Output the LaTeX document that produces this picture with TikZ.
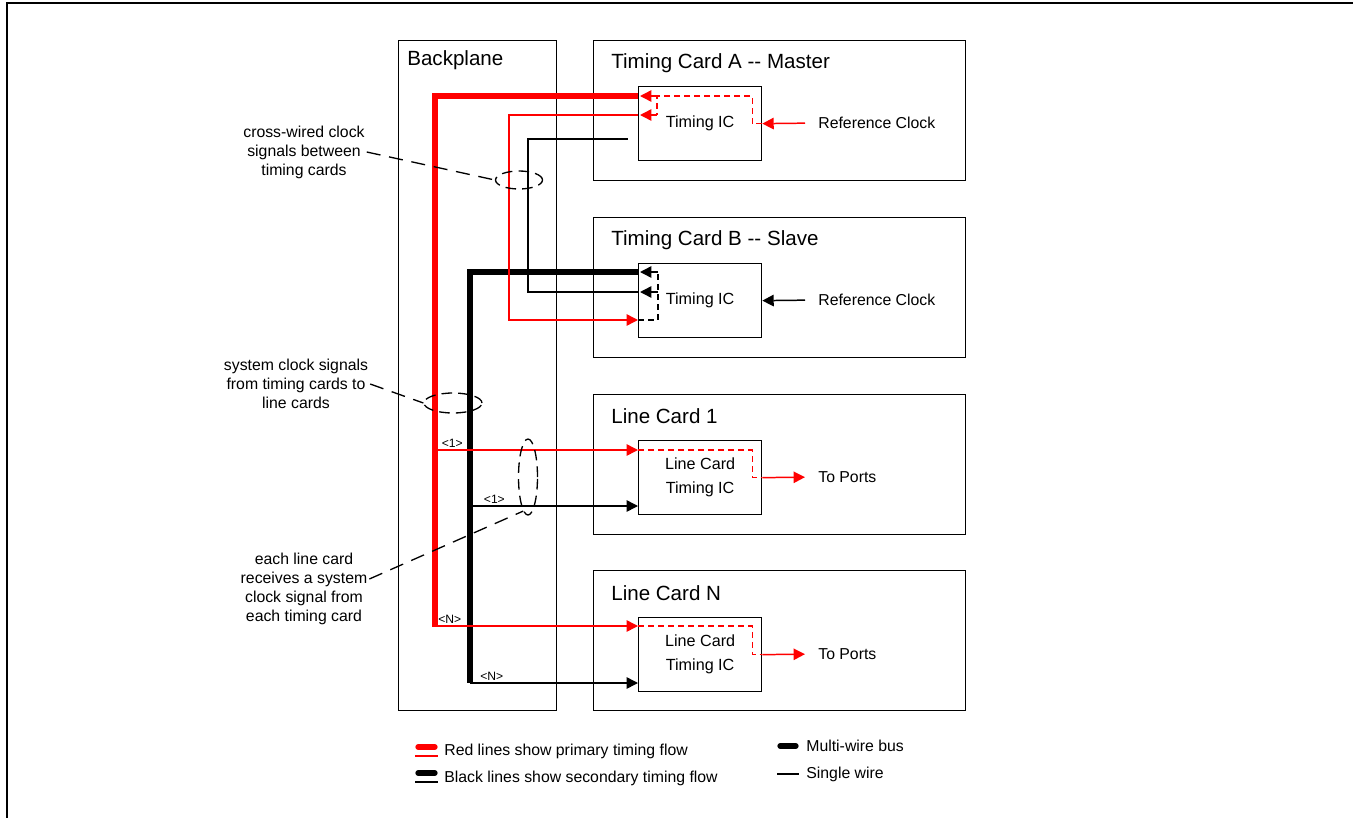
\documentclass[tikz,border=0pt]{standalone}
\usepackage{fontspec}
\setmainfont{Liberation Sans}
\usetikzlibrary{positioning, arrows.meta, shapes.geometric, calc}

\begin{document}
\begin{tikzpicture}[
        x=0.02cm, y=-0.02cm,
        font=\fontsize{9}{10.8}\selectfont,
        card/.style={draw, line width=0.75pt, anchor=north west, minimum width=7.44cm, minimum height=2.8cm},
        chip/.style={draw, line width=0.75pt, anchor=north west, align=center, minimum width=2.46cm, minimum height=1.48cm, font=\fontsize{9.2}{13.5}\selectfont},
        heading/.style={anchor=west, inner sep=0pt, font=\fontsize{11.7}{14}\selectfont},
        sig/.style={anchor=west, inner sep=0pt},
        tag/.style={anchor=south west, inner sep=1pt, text=black, font=\fontsize{6.9}{8}\selectfont},
        note/.style={align=center, inner sep=1pt},
        ring/.style={draw, ellipse, inner sep=0pt, line width=0.75pt, dash pattern=on 6pt off 3.5pt},
        bus/.style={line width=3pt},
        wire/.style={line width=0.85pt},
        inner/.style={line width=0.85pt, dash pattern=on 3.4pt off 2.3pt},
        arrow/.style={-{Triangle[length=6.5pt,width=6.5pt]}},
        lead/.style={line width=0.75pt, dash pattern=on 8pt off 5pt}
    ]
    \useasboundingbox (0,0) rectangle (1353,818);
    \draw[line width=1.1pt] (7,3) rectangle (1362,828);

    % Nodes
    \node[card, minimum width=3.16cm, minimum height=13.4cm] (back) at (398,40) {};
    \node[heading] (backTitle) at ($(back.north west)+(9,20)$) {Backplane};

    \node[card] (cardA) at (593,40) {};
    \node[heading] (titleA) at ($(cardA.north west)+(18,23)$) {Timing Card A -{}- Master};
    \node[chip] (icA) at (638,86) {Timing IC};

    \node[card] (cardB) at (593,217) {};
    \node[heading] (titleB) at ($(cardB.north west)+(18,23)$) {Timing Card B -{}- Slave};
    \node[chip] (icB) at (638,263) {Timing IC};

    \node[card] (card1) at (593,394) {};
    \node[heading] (title1) at ($(card1.north west)+(18,22)$) {Line Card 1};
    \node[chip] (ic1) at (638,440) {Line Card\\Timing IC};

    \node[card] (cardN) at (593,570) {};
    \node[heading] (titleN) at ($(cardN.north west)+(18,23)$) {Line Card N};
    \node[chip] (icN) at (638,617) {Line Card\\Timing IC};

    \node[sig] (refA) at (818,123) {Reference Clock};
    \node[sig] (refB) at (818,300) {Reference Clock};
    \node[sig] (ports1) at (818,477) {To Ports};
    \node[sig] (portsN) at (818,654) {To Ports};

    % Ports on the chips
    \coordinate (aBus) at ($(icA.north west)+(0,10)$);
    \coordinate (aCross) at ($(icA.north west)+(0,29)$);
    \coordinate (aBack) at ($(icA.north west)+(-10,53)$);
    \coordinate (bBus) at ($(icB.north west)+(0,9)$);
    \coordinate (bCross) at ($(icB.north west)+(0,29)$);
    \coordinate (bIn) at ($(icB.north west)+(0,57)$);
    \coordinate (in1r) at ($(ic1.north west)+(0,10)$);
    \coordinate (in1b) at ($(ic1.north west)+(0,66)$);
    \coordinate (inNr) at ($(icN.north west)+(0,9)$);
    \coordinate (inNb) at ($(icN.north west)+(0,66)$);
    \coordinate (redEnd) at (435,627);
    \coordinate (blkEnd) at (470,683);

    % Buses and cross wires
    \draw[bus, red] (aBus) -| (redEnd);
    \draw[bus] (bBus) -| (blkEnd);
    \draw[wire, red, arrow] (aCross) -- ++(-129,0) |- (bIn);
    \draw[wire] (bCross) -- ++(-110,0) |- (aBack);

    % Inside the timing ICs
    \draw[inner, red] (icA.east) -- ++(-10,0) |- ($(aBus)+(19,0)$) -- ($(aCross)+(19,0)$);
    \draw[wire, red, arrow] ($(aBus)+(19,0)$) -- ($(aBus)+(2,0)$);
    \draw[wire, red, arrow] ($(aCross)+(19,0)$) -- ($(aCross)+(2,0)$);
    \draw[inner] (bIn) -- ++(20,0) -- ($(bBus)+(20,0)$);
    \draw[wire, arrow] ($(bBus)+(20,0)$) -- ($(bBus)+(2,0)$);
    \draw[wire, arrow] ($(bCross)+(20,0)$) -- ($(bCross)+(2,0)$);
    \draw[inner, red] (in1r) -| ($(ic1.east)+(-10,0)$) -- (ic1.east);
    \draw[inner, red] (inNr) -| ($(icN.east)+(-10,0)$) -- (icN.east);

    % Reference clocks and ports
    \draw[wire, red, arrow, shorten <=7.4pt] (refA.west) -- (icA.east);
    \draw[wire, arrow, shorten <=7.4pt] (refB.west) -- (icB.east);
    \draw[wire, red, arrow, shorten >=7.4pt] (ic1.east) -- (ports1.west);
    \draw[wire, red, arrow, shorten >=7.4pt] (icN.east) -- (portsN.west);

    % Taps to the line cards
    \draw[wire, red, arrow] (redEnd |- in1r) -- (in1r) node[tag, pos=0, xshift=2.5pt] {<1>};
    \draw[wire, arrow] (blkEnd |- in1b) -- (in1b) node[tag, pos=0, xshift=6.5pt] {<1>};
    \draw[wire, red, arrow] (redEnd |- inNr) -- (inNr) node[tag, pos=0, xshift=0.5pt] {<N>};
    \draw[wire, arrow] (blkEnd) -- (inNb) node[tag, pos=0, xshift=4.5pt] {<N>};

    % Notes
    \node[note] (noteCross) at (304,152) {cross-wired clock\\signals between\\timing cards};
    \node[note] (noteSys) at (296,384) {system clock signals\\from timing cards to\\line cards};
    \node[note] (noteLine) at (304,589) {each line card\\receives a system\\clock signal from\\each timing card};
    \node[ring, minimum width=0.94cm, minimum height=0.36cm] (ringCross) at (519,180) {};
    \node[ring, minimum width=1.16cm, minimum height=0.4cm] (ringSys) at (453,403) {};
    \node[ring, minimum width=0.38cm, minimum height=1.52cm] (ringLine) at (528,477) {};
    \draw[lead] (noteCross.east) -- (ringCross.west);
    \draw[lead] (noteSys.east) -- (ringSys.west);
    \draw[lead] ($(noteLine.east)+(0,-10)$) -- (ringLine.262);

    % Legend
    \node[sig] (legRed) at (444,751) {Red lines show primary timing flow};
    \node[sig] (legBlack) at (444,778) {Black lines show secondary timing flow};
    \node[sig] (legBus) at (806,746) {Multi-wire bus};
    \node[sig] (legWire) at (806,774) {Single wire};
    \draw[bus, red, line cap=round] ($(legRed.west)+(-26,-4)$) -- ++(17,0);
    \draw[wire, red] ($(legRed.west)+(-29,5)$) -- ++(23,0);
    \draw[bus, line cap=round] ($(legBlack.west)+(-26,-5)$) -- ++(17,0);
    \draw[wire] ($(legBlack.west)+(-29,4)$) -- ++(23,0);
    \draw[bus, line cap=round] ($(legBus.west)+(-26,0)$) -- ++(16,0);
    \draw[wire] ($(legWire.west)+(-29,0)$) -- ++(22,0);
\end{tikzpicture}
\end{document}
